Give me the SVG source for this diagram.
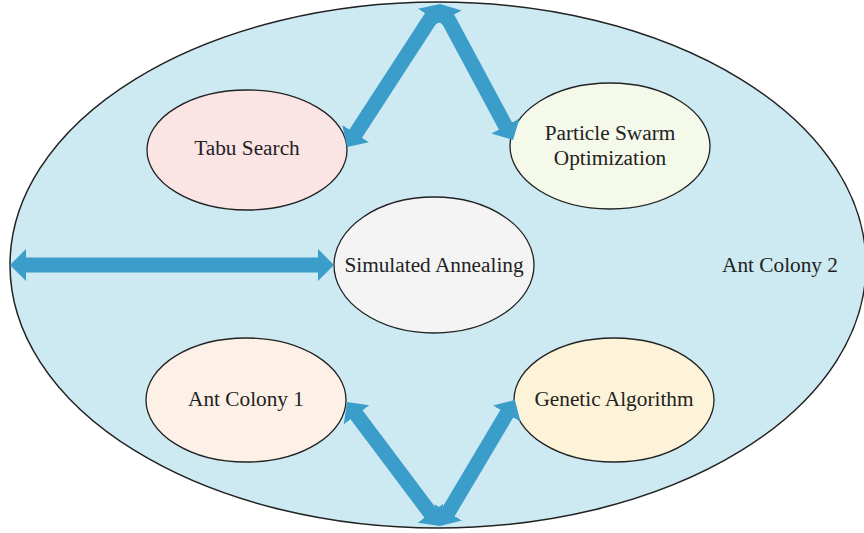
<svg xmlns="http://www.w3.org/2000/svg" width="864" height="533" viewBox="0 0 864 533">
<style>
.outer{fill:#cde9f2;stroke:#222;stroke-width:1.5}
.node{stroke:#222;stroke-width:1.3}
.lbl{font-family:"Liberation Serif","Times New Roman",serif;font-size:21.3px;fill:#222;text-anchor:middle}
.arr{stroke:#3b9dca;stroke-width:15;fill:none;marker-start:url(#ah);marker-end:url(#ah)}
</style>
<defs>
<marker id="ah" markerUnits="userSpaceOnUse" viewBox="0 0 16 32" markerWidth="16" markerHeight="32" refX="2" refY="16" orient="auto-start-reverse">
<path d="M0,0 L16,16 L0,32 Z" fill="#3b9dca"/>
</marker>
</defs>
<g id="outer">
<ellipse class="outer" cx="438" cy="265" rx="428" ry="263"/>
<text class="lbl" x="780" y="272">Ant Colony 2</text>
</g>
<g id="tabu">
<ellipse class="node" cx="247" cy="150" rx="100" ry="60" fill="#fae4e4"/>
<text class="lbl" x="247" y="155">Tabu Search</text>
</g>
<g id="pso">
<ellipse class="node" cx="610" cy="146" rx="100" ry="63" fill="#f5f9ea"/>
<text class="lbl" x="610" y="140">Particle Swarm</text>
<text class="lbl" x="610" y="165">Optimization</text>
</g>
<g id="sa">
<ellipse class="node" cx="434" cy="265" rx="100" ry="68" fill="#f4f4f4"/>
<text class="lbl" x="434" y="272">Simulated Annealing</text>
</g>
<g id="ac1">
<ellipse class="node" cx="246" cy="400" rx="100" ry="62" fill="#fdf0e6"/>
<text class="lbl" x="246" y="406">Ant Colony 1</text>
</g>
<g id="ga">
<ellipse class="node" cx="614" cy="400" rx="100" ry="62" fill="#fdf3d8"/>
<text class="lbl" x="614" y="406">Genetic Algorithm</text>
</g>
<g id="connectors">
<line class="arr" x1="24" y1="265" x2="320" y2="265"/>
<line class="arr" x1="354.6" y1="135.3" x2="432.4" y2="15.7"/>
<line class="arr" x1="446.6" y1="16.3" x2="506.4" y2="127.7"/>
<line class="arr" x1="355.4" y1="413.2" x2="431.6" y2="514.8"/>
<line class="arr" x1="447.2" y1="514" x2="507.8" y2="412"/>
</g>
</svg>
